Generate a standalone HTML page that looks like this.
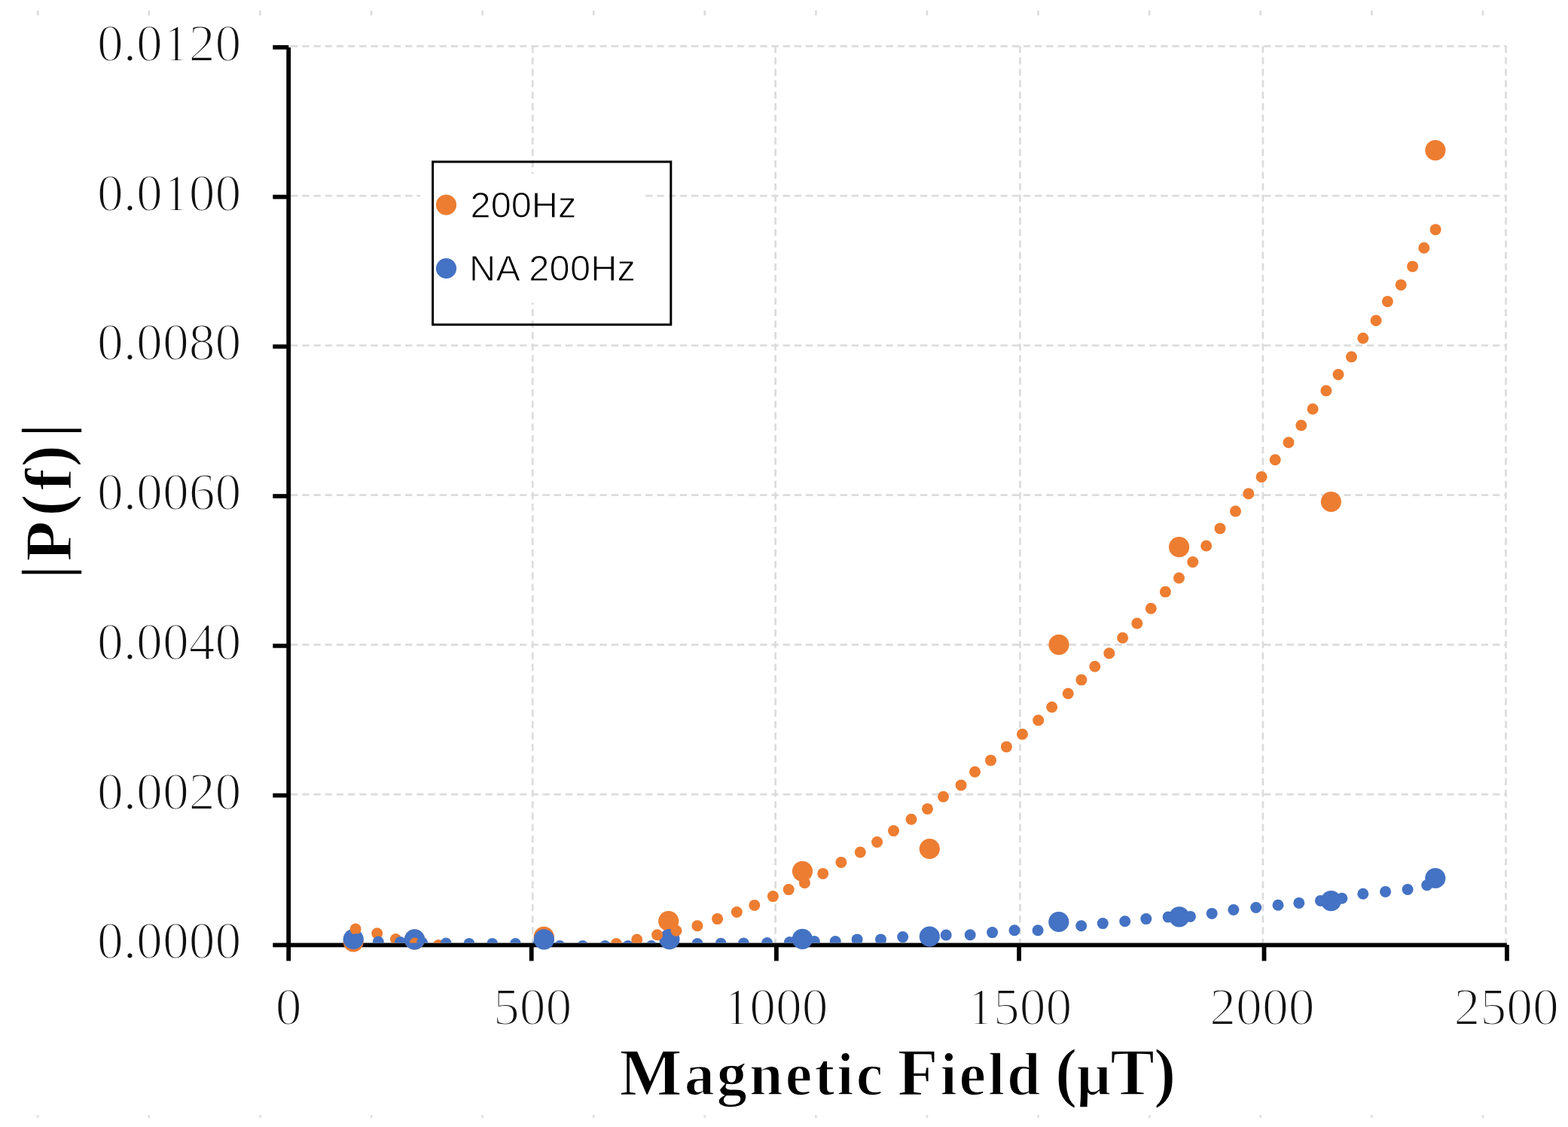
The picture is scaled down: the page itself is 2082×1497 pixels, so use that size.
<!DOCTYPE html>
<html><head><meta charset="utf-8"><title>Chart</title><style>html,body{margin:0;padding:0;background:#fff;overflow:hidden}svg{display:block}</style></head><body>
<svg width="2082" height="1497" viewBox="0 0 2082 1497">
<defs><clipPath id="pa"><rect x="386" y="40" width="1620" height="1212.5"/></clipPath></defs>
<rect width="2082" height="1497" fill="#fff"/>
<rect x="48.9" y="14" width="2.6" height="6.5" fill="#dcdcdc"/>
<rect x="48.8" y="1481" width="2.8" height="4" fill="#e2e2e2"/>
<rect x="196.5" y="14" width="2.6" height="6.5" fill="#dcdcdc"/>
<rect x="196.4" y="1481" width="2.8" height="4" fill="#e2e2e2"/>
<rect x="344.1" y="14" width="2.6" height="6.5" fill="#dcdcdc"/>
<rect x="344" y="1481" width="2.8" height="4" fill="#e2e2e2"/>
<rect x="491.7" y="14" width="2.6" height="6.5" fill="#dcdcdc"/>
<rect x="491.6" y="1481" width="2.8" height="4" fill="#e2e2e2"/>
<rect x="639.3" y="14" width="2.6" height="6.5" fill="#dcdcdc"/>
<rect x="639.2" y="1481" width="2.8" height="4" fill="#e2e2e2"/>
<rect x="786.9" y="14" width="2.6" height="6.5" fill="#dcdcdc"/>
<rect x="786.8" y="1481" width="2.8" height="4" fill="#e2e2e2"/>
<rect x="934.5" y="14" width="2.6" height="6.5" fill="#dcdcdc"/>
<rect x="934.4" y="1481" width="2.8" height="4" fill="#e2e2e2"/>
<rect x="1082.1" y="14" width="2.6" height="6.5" fill="#dcdcdc"/>
<rect x="1082" y="1481" width="2.8" height="4" fill="#e2e2e2"/>
<rect x="1229.7" y="14" width="2.6" height="6.5" fill="#dcdcdc"/>
<rect x="1229.6" y="1481" width="2.8" height="4" fill="#e2e2e2"/>
<rect x="1377.3" y="14" width="2.6" height="6.5" fill="#dcdcdc"/>
<rect x="1377.2" y="1481" width="2.8" height="4" fill="#e2e2e2"/>
<rect x="1524.9" y="14" width="2.6" height="6.5" fill="#dcdcdc"/>
<rect x="1524.8" y="1481" width="2.8" height="4" fill="#e2e2e2"/>
<rect x="1672.5" y="14" width="2.6" height="6.5" fill="#dcdcdc"/>
<rect x="1672.4" y="1481" width="2.8" height="4" fill="#e2e2e2"/>
<rect x="1820.1" y="14" width="2.6" height="6.5" fill="#dcdcdc"/>
<rect x="1820" y="1481" width="2.8" height="4" fill="#e2e2e2"/>
<rect x="1967.7" y="14" width="2.6" height="6.5" fill="#dcdcdc"/>
<rect x="1967.6" y="1481" width="2.8" height="4" fill="#e2e2e2"/>
<path d="M386 61.3H2001 M386 260.1H2001 M386 458.9H2001 M386 657.6H2001 M386 856.4H2001 M386 1055.2H2001 M707.2 61V1252 M1029.6 61V1252 M1354.4 61V1252 M1676.9 61V1252 M1999.5 61V1252" stroke="#DCDCDC" stroke-width="2.7" stroke-dasharray="9.4 5.8" fill="none"/>
<rect x="558" y="231" width="297" height="171" fill="#fff"/>
<rect x="380.3" y="63" width="5.8" height="1213.4" fill="#000"/>
<rect x="362.3" y="1252.5" width="1638.5" height="5.7" fill="#000"/>
<rect x="362.3" y="60" width="21" height="5.7" fill="#000"/>
<rect x="362.3" y="258.7" width="21" height="5.7" fill="#000"/>
<rect x="362.3" y="457.5" width="21" height="5.7" fill="#000"/>
<rect x="362.3" y="656.2" width="21" height="5.7" fill="#000"/>
<rect x="362.3" y="855" width="21" height="5.7" fill="#000"/>
<rect x="362.3" y="1053.7" width="21" height="5.7" fill="#000"/>
<rect x="702.8" y="1255" width="5.8" height="21.4" fill="#000"/>
<rect x="1028" y="1255" width="5.8" height="21.4" fill="#000"/>
<rect x="1350.2" y="1255" width="5.8" height="21.4" fill="#000"/>
<rect x="1675.6" y="1255" width="5.8" height="21.4" fill="#000"/>
<rect x="1998" y="1255" width="5.8" height="21.4" fill="#000"/>
<circle cx="469.2" cy="1250.8" r="13.6" fill="#ED7D31"/>
<circle cx="550.5" cy="1248" r="13.6" fill="#ED7D31"/>
<circle cx="722.2" cy="1244.4" r="13.6" fill="#ED7D31"/>
<circle cx="887.7" cy="1223.5" r="13.6" fill="#ED7D31"/>
<circle cx="1065.5" cy="1157.3" r="13.6" fill="#ED7D31"/>
<circle cx="1234.3" cy="1127.5" r="13.6" fill="#ED7D31"/>
<circle cx="1406" cy="856.3" r="13.6" fill="#ED7D31"/>
<circle cx="1565.6" cy="726.6" r="13.6" fill="#ED7D31"/>
<circle cx="1767.4" cy="666.5" r="13.6" fill="#ED7D31"/>
<circle cx="1905.9" cy="199.6" r="13.6" fill="#ED7D31"/>
<circle cx="469.2" cy="1247.5" r="13.6" fill="#4472C4"/>
<circle cx="550.5" cy="1247.9" r="13.6" fill="#4472C4"/>
<circle cx="722.4" cy="1247.9" r="13.6" fill="#4472C4"/>
<circle cx="888.9" cy="1247.6" r="13.6" fill="#4472C4"/>
<circle cx="1065.4" cy="1247.4" r="13.6" fill="#4472C4"/>
<circle cx="1234.3" cy="1244" r="13.6" fill="#4472C4"/>
<circle cx="1405.8" cy="1224.5" r="13.6" fill="#4472C4"/>
<circle cx="1565.8" cy="1217.8" r="13.6" fill="#4472C4"/>
<circle cx="1767.4" cy="1196.7" r="13.6" fill="#4472C4"/>
<circle cx="1905.8" cy="1166.5" r="13.6" fill="#4472C4"/>
<g clip-path="url(#pa)">
<circle cx="472.1" cy="1234.1" r="7.5" fill="#ED7D31"/>
<circle cx="500.7" cy="1239.8" r="7.5" fill="#ED7D31"/>
<circle cx="525.5" cy="1247.5" r="7.5" fill="#ED7D31"/>
<circle cx="551" cy="1253" r="7.5" fill="#ED7D31"/>
<circle cx="582.2" cy="1255.5" r="7.5" fill="#ED7D31"/>
<circle cx="818.3" cy="1253.5" r="7.5" fill="#ED7D31"/>
<circle cx="845.7" cy="1248" r="7.5" fill="#ED7D31"/>
<circle cx="872.6" cy="1241.7" r="7.5" fill="#ED7D31"/>
<circle cx="898" cy="1236.3" r="7.5" fill="#ED7D31"/>
<circle cx="925.9" cy="1229.7" r="7.5" fill="#ED7D31"/>
<circle cx="952.6" cy="1220.6" r="7.5" fill="#ED7D31"/>
<circle cx="978.3" cy="1211.5" r="7.5" fill="#ED7D31"/>
<circle cx="1001.8" cy="1202.4" r="7.5" fill="#ED7D31"/>
<circle cx="1026.4" cy="1190.6" r="7.5" fill="#ED7D31"/>
<circle cx="1047.2" cy="1181.6" r="7.5" fill="#ED7D31"/>
<circle cx="1068.4" cy="1172.7" r="7.5" fill="#ED7D31"/>
<circle cx="1092.7" cy="1160.4" r="7.5" fill="#ED7D31"/>
<circle cx="1116.9" cy="1145.4" r="7.5" fill="#ED7D31"/>
<circle cx="1142.3" cy="1132" r="7.5" fill="#ED7D31"/>
<circle cx="1164.6" cy="1118.5" r="7.5" fill="#ED7D31"/>
<circle cx="1186.5" cy="1103.6" r="7.5" fill="#ED7D31"/>
<circle cx="1210" cy="1088.2" r="7.5" fill="#ED7D31"/>
<circle cx="1231.5" cy="1074.4" r="7.5" fill="#ED7D31"/>
<circle cx="1252.5" cy="1058.3" r="7.5" fill="#ED7D31"/>
<circle cx="1276.1" cy="1042.9" r="7.5" fill="#ED7D31"/>
<circle cx="1294.5" cy="1025.2" r="7.5" fill="#ED7D31"/>
<circle cx="1315.5" cy="1009.9" r="7.5" fill="#ED7D31"/>
<circle cx="1336.4" cy="991.9" r="7.5" fill="#ED7D31"/>
<circle cx="1357.5" cy="975.3" r="7.5" fill="#ED7D31"/>
<circle cx="1378.7" cy="956.8" r="7.5" fill="#ED7D31"/>
<circle cx="1396.7" cy="939.2" r="7.5" fill="#ED7D31"/>
<circle cx="1418.2" cy="921.2" r="7.5" fill="#ED7D31"/>
<circle cx="1435.9" cy="903.1" r="7.5" fill="#ED7D31"/>
<circle cx="1453.8" cy="885.2" r="7.5" fill="#ED7D31"/>
<circle cx="1472.8" cy="867.7" r="7.5" fill="#ED7D31"/>
<circle cx="1490.6" cy="847.2" r="7.5" fill="#ED7D31"/>
<circle cx="1509.8" cy="828" r="7.5" fill="#ED7D31"/>
<circle cx="1528.3" cy="808.2" r="7.5" fill="#ED7D31"/>
<circle cx="1547.4" cy="786.1" r="7.5" fill="#ED7D31"/>
<circle cx="1565.5" cy="767.8" r="7.5" fill="#ED7D31"/>
<circle cx="1583.8" cy="746.5" r="7.5" fill="#ED7D31"/>
<circle cx="1601.7" cy="725" r="7.5" fill="#ED7D31"/>
<circle cx="1620" cy="701.9" r="7.5" fill="#ED7D31"/>
<circle cx="1640.5" cy="679.1" r="7.5" fill="#ED7D31"/>
<circle cx="1657.8" cy="655.7" r="7.5" fill="#ED7D31"/>
<circle cx="1675.1" cy="633.4" r="7.5" fill="#ED7D31"/>
<circle cx="1693.2" cy="610.7" r="7.5" fill="#ED7D31"/>
<circle cx="1711" cy="587.7" r="7.5" fill="#ED7D31"/>
<circle cx="1727.8" cy="565" r="7.5" fill="#ED7D31"/>
<circle cx="1743.1" cy="543.2" r="7.5" fill="#ED7D31"/>
<circle cx="1760.9" cy="519" r="7.5" fill="#ED7D31"/>
<circle cx="1777" cy="497.5" r="7.5" fill="#ED7D31"/>
<circle cx="1794.5" cy="474" r="7.5" fill="#ED7D31"/>
<circle cx="1809.8" cy="449.3" r="7.5" fill="#ED7D31"/>
<circle cx="1827.1" cy="425.8" r="7.5" fill="#ED7D31"/>
<circle cx="1842.4" cy="400.4" r="7.5" fill="#ED7D31"/>
<circle cx="1860.2" cy="378.4" r="7.5" fill="#ED7D31"/>
<circle cx="1875.6" cy="353.9" r="7.5" fill="#ED7D31"/>
<circle cx="1890.8" cy="329.2" r="7.5" fill="#ED7D31"/>
<circle cx="1906.1" cy="304.9" r="7.5" fill="#ED7D31"/>
<circle cx="473" cy="1247.5" r="7.5" fill="#4472C4"/>
<circle cx="502.3" cy="1251" r="7.5" fill="#4472C4"/>
<circle cx="531.5" cy="1251.5" r="7.5" fill="#4472C4"/>
<circle cx="560.5" cy="1252" r="7.5" fill="#4472C4"/>
<circle cx="592.2" cy="1253" r="7.5" fill="#4472C4"/>
<circle cx="622.9" cy="1253.5" r="7.5" fill="#4472C4"/>
<circle cx="653.7" cy="1253.5" r="7.5" fill="#4472C4"/>
<circle cx="684.4" cy="1253.5" r="7.5" fill="#4472C4"/>
<circle cx="714" cy="1255" r="7.5" fill="#4472C4"/>
<circle cx="743.3" cy="1256.5" r="7.5" fill="#4472C4"/>
<circle cx="773.6" cy="1256.5" r="7.5" fill="#4472C4"/>
<circle cx="803.4" cy="1256.5" r="7.5" fill="#4472C4"/>
<circle cx="833.7" cy="1256.5" r="7.5" fill="#4472C4"/>
<circle cx="864.9" cy="1256.5" r="7.5" fill="#4472C4"/>
<circle cx="895.5" cy="1256.5" r="7.5" fill="#4472C4"/>
<circle cx="926" cy="1253.5" r="7.5" fill="#4472C4"/>
<circle cx="957.2" cy="1253.3" r="7.5" fill="#4472C4"/>
<circle cx="987.4" cy="1253" r="7.5" fill="#4472C4"/>
<circle cx="1018.6" cy="1252.5" r="7.5" fill="#4472C4"/>
<circle cx="1048.5" cy="1251.5" r="7.5" fill="#4472C4"/>
<circle cx="1081.3" cy="1250.6" r="7.5" fill="#4472C4"/>
<circle cx="1109.2" cy="1250.6" r="7.5" fill="#4472C4"/>
<circle cx="1138.1" cy="1247.9" r="7.5" fill="#4472C4"/>
<circle cx="1169.5" cy="1247.9" r="7.5" fill="#4472C4"/>
<circle cx="1198.7" cy="1244.6" r="7.5" fill="#4472C4"/>
<circle cx="1232" cy="1244.5" r="7.5" fill="#4472C4"/>
<circle cx="1256.2" cy="1242" r="7.5" fill="#4472C4"/>
<circle cx="1288.2" cy="1241.8" r="7.5" fill="#4472C4"/>
<circle cx="1317.6" cy="1238.6" r="7.5" fill="#4472C4"/>
<circle cx="1347" cy="1235.8" r="7.5" fill="#4472C4"/>
<circle cx="1378.1" cy="1235.8" r="7.5" fill="#4472C4"/>
<circle cx="1406" cy="1230" r="7.5" fill="#4472C4"/>
<circle cx="1435.7" cy="1229.7" r="7.5" fill="#4472C4"/>
<circle cx="1464.3" cy="1226.6" r="7.5" fill="#4472C4"/>
<circle cx="1493.7" cy="1223.7" r="7.5" fill="#4472C4"/>
<circle cx="1521.8" cy="1220.6" r="7.5" fill="#4472C4"/>
<circle cx="1551.1" cy="1218.1" r="7.5" fill="#4472C4"/>
<circle cx="1580.5" cy="1217.4" r="7.5" fill="#4472C4"/>
<circle cx="1609.2" cy="1213.4" r="7.5" fill="#4472C4"/>
<circle cx="1637.9" cy="1208.5" r="7.5" fill="#4472C4"/>
<circle cx="1667.7" cy="1205.5" r="7.5" fill="#4472C4"/>
<circle cx="1697" cy="1202.2" r="7.5" fill="#4472C4"/>
<circle cx="1724.8" cy="1199.4" r="7.5" fill="#4472C4"/>
<circle cx="1753.4" cy="1196.4" r="7.5" fill="#4472C4"/>
<circle cx="1781.9" cy="1193.2" r="7.5" fill="#4472C4"/>
<circle cx="1809.8" cy="1187.3" r="7.5" fill="#4472C4"/>
<circle cx="1839.6" cy="1184.4" r="7.5" fill="#4472C4"/>
<circle cx="1869.1" cy="1181.5" r="7.5" fill="#4472C4"/>
<circle cx="1894.7" cy="1175.7" r="7.5" fill="#4472C4"/>
</g>
<rect x="574.6" y="214.9" width="316.2" height="216.3" fill="none" stroke="#000" stroke-width="3"/>
<circle cx="592.5" cy="272.1" r="13.6" fill="#ED7D31"/>
<circle cx="592.5" cy="356.5" r="13.6" fill="#4472C4"/>
<text x="624.6" y="289" font-family="Liberation Sans, Arial, sans-serif" font-size="48.7" fill="#000" stroke="#fff" stroke-width="1">200Hz</text>
<text x="623" y="372.8" font-family="Liberation Sans, Arial, sans-serif" font-size="48.7" letter-spacing="0.25" fill="#000" stroke="#fff" stroke-width="1">NA 200Hz</text>
<text x="320.3" y="81" text-anchor="end" font-family="Liberation Serif, Times New Roman, serif" font-size="69.6" fill="#111" stroke="#fff" stroke-width="2">0.0120</text>
<text x="320.3" y="279.7" text-anchor="end" font-family="Liberation Serif, Times New Roman, serif" font-size="69.6" fill="#111" stroke="#fff" stroke-width="2">0.0100</text>
<text x="320.3" y="478.4" text-anchor="end" font-family="Liberation Serif, Times New Roman, serif" font-size="69.6" fill="#111" stroke="#fff" stroke-width="2">0.0080</text>
<text x="320.3" y="677.2" text-anchor="end" font-family="Liberation Serif, Times New Roman, serif" font-size="69.6" fill="#111" stroke="#fff" stroke-width="2">0.0060</text>
<text x="320.3" y="875.9" text-anchor="end" font-family="Liberation Serif, Times New Roman, serif" font-size="69.6" fill="#111" stroke="#fff" stroke-width="2">0.0040</text>
<text x="320.3" y="1074.6" text-anchor="end" font-family="Liberation Serif, Times New Roman, serif" font-size="69.6" fill="#111" stroke="#fff" stroke-width="2">0.0020</text>
<text x="320.3" y="1273.4" text-anchor="end" font-family="Liberation Serif, Times New Roman, serif" font-size="69.6" fill="#111" stroke="#fff" stroke-width="2">0.0000</text>
<text x="383.2" y="1361.1" text-anchor="middle" font-family="Liberation Serif, Times New Roman, serif" font-size="69.6" fill="#111" stroke="#fff" stroke-width="2">0</text>
<text x="707.2" y="1361.1" text-anchor="middle" font-family="Liberation Serif, Times New Roman, serif" font-size="69.6" fill="#111" stroke="#fff" stroke-width="2">500</text>
<text x="1030" y="1361.1" text-anchor="middle" font-family="Liberation Serif, Times New Roman, serif" font-size="69.6" fill="#111" stroke="#fff" stroke-width="2">1000</text>
<text x="1353.7" y="1361.1" text-anchor="middle" font-family="Liberation Serif, Times New Roman, serif" font-size="69.6" fill="#111" stroke="#fff" stroke-width="2">1500</text>
<text x="1675.9" y="1361.1" text-anchor="middle" font-family="Liberation Serif, Times New Roman, serif" font-size="69.6" fill="#111" stroke="#fff" stroke-width="2">2000</text>
<text x="2000.2" y="1361.1" text-anchor="middle" font-family="Liberation Serif, Times New Roman, serif" font-size="69.6" fill="#111" stroke="#fff" stroke-width="2">2500</text>
<text y="1453.8" font-family="Liberation Serif, Times New Roman, serif" font-weight="bold" font-size="88" fill="#000" stroke="#fff" stroke-width="1.6"><tspan x="822.4" letter-spacing="3.2">M<tspan font-size="80">agnetic</tspan></tspan> <tspan x="1191.8" letter-spacing="2.9">F<tspan font-size="80">ield</tspan></tspan> <tspan x="1401.1" letter-spacing="-1.1">(<tspan font-size="80">µ</tspan>T)</tspan></text>
<text transform="translate(93.5 666) rotate(-90)" x="-103.84 -79.63 -19.87 14.45 45.41 84.56" y="-3.8 0 -3.8 0 -3.8 -3.8" font-family="Liberation Serif, Times New Roman, serif" font-weight="bold" font-size="88" fill="#000" stroke="#fff" stroke-width="1.6">|P(f)|</text>
</svg>
</body></html>
